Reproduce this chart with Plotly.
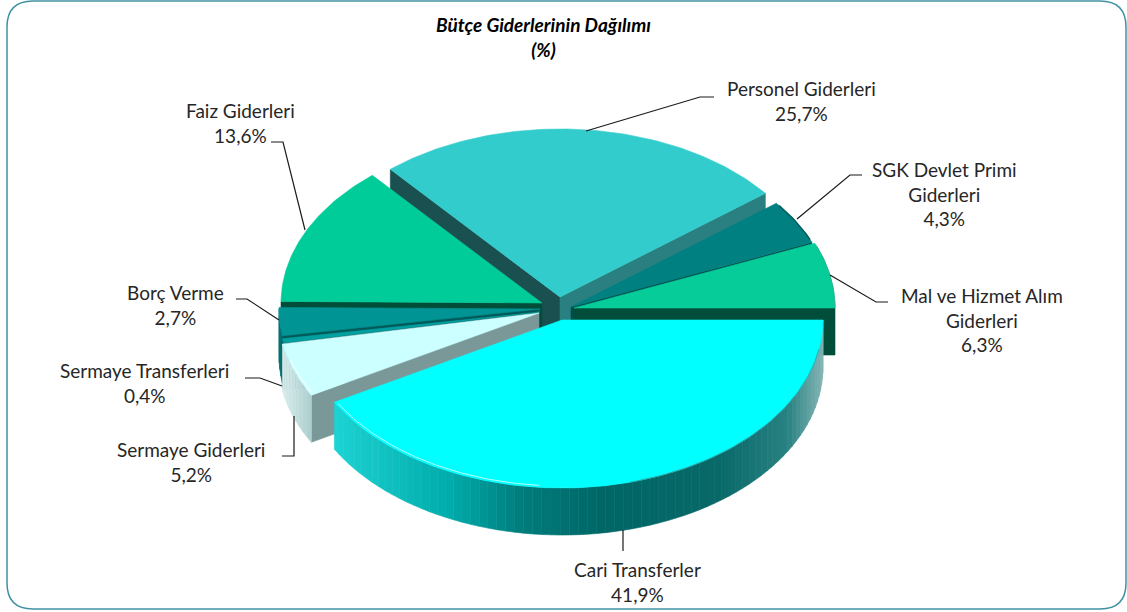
import math
import plotly.graph_objects as go

# ---- data ----
categories = ["Personel Giderleri", "SGK Devlet Primi Giderleri", "Mal ve Hizmet Alım Giderleri",
              "Cari Transferler", "Sermaye Giderleri", "Sermaye Transferleri", "Borç Verme", "Faiz Giderleri"]
values = [25.7, 4.3, 6.3, 41.9, 5.2, 0.4, 2.7, 13.6]
value_text = ["25,7%", "4,3%", "6,3%", "41,9%", "5,2%", "0,4%", "2,7%", "13,6%"]
label_text = ["Personel Giderleri", "SGK Devlet Primi<br>Giderleri", "Mal ve Hizmet Alım<br>Giderleri",
              "Cari Transferler", "Sermaye Giderleri", "Sermaye Transferleri", "Borç Verme", "Faiz Giderleri"]
title_text = "Bütçe Giderlerinin Dağılımı<br>(%)"

# ---- geometry / style ----
W, H = 1127, 612
RX, RY, DEPTH = 261, 168, 47
FONT = "Lato"
apex = [(560, 297), (571, 307), (574, 308), (562, 320), (539, 313), (540, 312), (540, 309), (542, 303)]
top_col = ["#33CCCC", "#008080", "#06CC99", "#00FFFF", "#CCFFFF", "#00A0A0", "#009494", "#00CC99"]
start_face = ["#1A5050", "#004D4D", "#004D3A", "#008080", "#7A9898", "#003F3F", "#005A5A", "#004D39"]
end_face = ["#2A8080", "#004D4D", "#004D3A", "#008080", "#7A9898", "#003F3F", "#005A5A", "#004D39"]
side_stops = {
    3: [(333, (30, 212, 212)), (453, (0, 170, 170)), (520, (0, 125, 125)), (603, (0, 102, 102)),
        (720, (10, 105, 105)), (787, (40, 130, 130)), (826, (140, 185, 185))],
    4: [(284, (215, 235, 235)), (313, (170, 205, 205))],
    5: [(280, (0, 90, 90)), (290, (0, 90, 90))],
    6: [(279, (0, 110, 110)), (290, (0, 120, 120))],
}
paint_order = [0, 7, 1, 6, 5, 2, 4, 3]
label_pos = [(801, 101), (944, 194), (982, 320), (637, 582), (191, 462), (144, 383), (175, 305), (240, 123)]
leaders = [
    [(586, 131), (700, 97), (714, 97)],
    [(797, 219), (850, 175), (862, 175)],
    [(830, 275), (876, 302), (888, 302)],
    [(623, 530), (623, 551)],
    [(294, 416), (294, 456), (282, 456)],
    [(282, 386), (260, 378), (245, 378)],
    [(279, 320), (247, 299), (236, 299)],
    [(305, 230), (283, 142), (271, 142)],
]

total = sum(values)
sweep = [v / total * 360 for v in values]
# Cari Transferler's first edge points due east, everything else follows clockwise.
t0 = 90 - sum(sweep[:3])
bounds = []
a = t0
for s in sweep:
    bounds.append((a, a + s))
    a += s


def pt(i, t, d=0.0, inset=0.0):
    ax, ay = apex[i]
    r = math.radians(t)
    return ax + (RX - inset) * math.sin(r), ay - (RY - inset) * math.cos(r) + d


def arc(i, t1, t2, d=0.0, inset=0.0, step=1.0):
    n = max(2, int(abs(t2 - t1) / step) + 1)
    return [pt(i, t1 + (t2 - t1) * k / (n - 1), d, inset) for k in range(n)]


def interp(stops, x):
    if x <= stops[0][0]:
        return stops[0][1]
    for (x1, c1), (x2, c2) in zip(stops, stops[1:]):
        if x <= x2:
            f = (x - x1) / (x2 - x1)
            return tuple(c1[j] + (c2[j] - c1[j]) * f for j in range(3))
    return stops[-1][1]


fig = go.Figure()


def poly(points, color, name):
    fig.add_trace(go.Scatter(
        x=[p[0] for p in points] + [points[0][0]],
        y=[p[1] for p in points] + [points[0][1]],
        mode="lines", fill="toself", fillcolor=color,
        line=dict(color=color, width=0.6), name=name, hoverinfo="skip", showlegend=False))


def line(points, color, width, name):
    fig.add_trace(go.Scatter(
        x=[p[0] for p in points], y=[p[1] for p in points], mode="lines",
        line=dict(color=color, width=width), name=name, hoverinfo="skip", showlegend=False))


for i in paint_order:
    t1, t2 = bounds[i]
    name = categories[i]
    ax, ay = apex[i]
    s1, s2 = math.sin(math.radians(t1)), math.sin(math.radians(t2))
    # cut faces, visible only when they turn towards the viewer
    if s1 < 0:
        x, y = pt(i, t1)
        poly([(ax, ay), (x, y), (x, y + DEPTH), (ax, ay + DEPTH)], start_face[i], name)
    if s2 > 0:
        x, y = pt(i, t2)
        poly([(ax, ay), (x, y), (x, y + DEPTH), (ax, ay + DEPTH)], end_face[i], name)
    # rim, shaded in narrow strips
    if i in side_stops:
        lo = max(t1, 90) if t1 >= 0 else max(t1, -270)
        hi = min(t2, 270) if t1 >= 0 else min(t2, -90)
        n = max(1, int((hi - lo) / 2))
        for k in range(n):
            a1 = lo + (hi - lo) * k / n
            a2 = lo + (hi - lo) * (k + 1) / n
            up = arc(i, a1, a2, 0, 0, 0.5)
            down = arc(i, a2, a1, DEPTH, 0, 0.5)
            xm = pt(i, (a1 + a2) / 2)[0]
            c = interp(side_stops[i], xm)
            poly(up + down, "rgb(%d,%d,%d)" % c, name)
    # top face
    poly([(ax, ay)] + arc(i, t1, t2), top_col[i], name)

# bevel highlights and rim shadow
line(arc(3, 185, bounds[3][1] - 1, 0, 2), "#B5FFFF", 1, categories[3])
line(arc(4, bounds[4][0] + 1, bounds[4][0] + 13, 0, 2), "#FFFFFF", 1, categories[4])
line(arc(3, 100, 165, 0, 0), "#2FA8A8", 1, categories[3])
line(arc(1, bounds[1][0] + 1, bounds[1][1] - 1, 0, 0), "#005F5F", 1.5, categories[1])
line(arc(2, bounds[2][0] + 1, bounds[2][1], 0, 0), "#2BAF8F", 1, categories[2])

# leader lines
for i, pts in enumerate(leaders):
    line(pts, "#1A1A1A", 1.2, categories[i])

annotations = [dict(x=543, y=37, xref="x", yref="y", text="<b><i>" + title_text.replace("<br>", "</i></b><br><b><i>") + "</i></b>",
                    showarrow=False, xanchor="center", yanchor="middle",
                    font=dict(family=FONT, size=19, color="#000000"))]
for i, (x, y) in enumerate(label_pos):
    annotations.append(dict(x=x, y=y, xref="x", yref="y", text=label_text[i] + "<br>" + value_text[i],
                            showarrow=False, xanchor="center", yanchor="middle", align="center",
                            font=dict(family=FONT, size=19, color="#262626")))

R = 26
x0, y0, x1, y1 = 7, 1, 1126, 609
frame = (f"M {x0+R} {y0} L {x1-R} {y0} Q {x1} {y0} {x1} {y0+R} L {x1} {y1-R} Q {x1} {y1} {x1-R} {y1} "
         f"L {x0+R} {y1} Q {x0} {y1} {x0} {y1-R} L {x0} {y0+R} Q {x0} {y0} {x0+R} {y0} Z")

fig.update_layout(
    width=W, height=H, margin=dict(l=0, r=0, t=0, b=0),
    paper_bgcolor="white", plot_bgcolor="white", showlegend=False,
    xaxis=dict(range=[0, W], visible=False, fixedrange=True),
    yaxis=dict(range=[H, 0], visible=False, fixedrange=True),
    annotations=annotations,
    shapes=[dict(type="path", path=frame, xref="x", yref="y", line=dict(color="#3F92A3", width=1.5), layer="below")],
)
fig.write_html("out.html", config={"displayModeBar": False},
               post_script="document.body.style.margin='0';document.documentElement.style.overflow='hidden';")
